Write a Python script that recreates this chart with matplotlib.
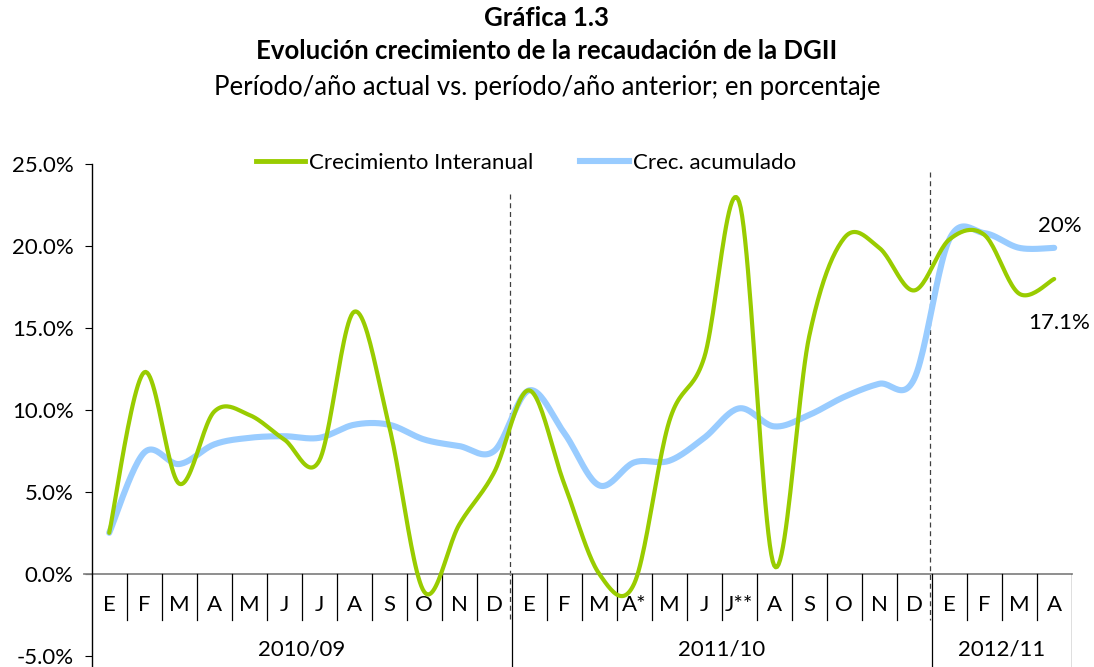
import numpy as np
import matplotlib.pyplot as plt
from matplotlib.lines import Line2D

plt.rcParams['font.family'] = ['Lato', 'DejaVu Sans']

months = ['E', 'F', 'M', 'A', 'M', 'J', 'J', 'A', 'S', 'O', 'N', 'D',
          'E', 'F', 'M', 'A*', 'M', 'J', 'J**', 'A', 'S', 'O', 'N', 'D',
          'E', 'F', 'M', 'A']
years = ['2010/09', '2011/10', '2012/11']
year_len = [12, 12, 4]

interanual = [2.5, 12.3, 5.5, 9.9, 9.7, 8.2, 6.9, 16.0, 9.0, -1.1, 3.0, 6.2,
              11.2, 5.5, 0.0, -0.6, 9.3, 13.2, 22.7, 0.5, 14.5, 20.5, 19.9, 17.3,
              20.4, 20.7, 17.1, 18.0]
acumulado = [2.5, 7.4, 6.7, 7.9, 8.3, 8.4, 8.3, 9.1, 9.1, 8.2, 7.8, 7.5,
             11.2, 8.6, 5.4, 6.8, 6.9, 8.3, 10.1, 9.0, 9.7, 10.8, 11.6, 11.9,
             20.4, 20.8, 19.9, 19.9]

GREEN = '#99cc00'
BLUE = '#99ccff'
FS = 16


def smooth(xs, ys, n=24):
    """Excel-like smoothed line (bezier with catmull-rom control points)"""
    pts = np.column_stack([xs, ys]).astype(float)
    p = np.vstack([pts[0], pts, pts[-1]])
    t = np.linspace(0, 1, n, endpoint=False)[:, None]
    out = []
    for i in range(1, len(p) - 2):
        p0, p1, p2, p3 = p[i - 1], p[i], p[i + 1], p[i + 2]
        c1 = p1 + (p2 - p0) / 6
        c2 = p2 - (p3 - p1) / 6
        out.append((1 - t) ** 3 * p1 + 3 * (1 - t) ** 2 * t * c1 + 3 * (1 - t) * t ** 2 * c2 + t ** 3 * p2)
    out.append(pts[-1:])
    return np.vstack(out)


fig = plt.figure(figsize=(10.94, 6.67), dpi=100)
ax = fig.add_axes([91.7 / 1094, 0, (1071.7 - 91.7) / 1094, (667 - 164.3) / 667])

x = np.arange(len(months))
blue_curve = smooth(x, acumulado)
green_curve = smooth(x, interanual)
ax.plot(blue_curve[:, 0], blue_curve[:, 1], color=BLUE, lw=4.4, solid_capstyle='round', zorder=3)
ax.plot(green_curve[:, 0], green_curve[:, 1], color=GREEN, lw=3.0, solid_capstyle='round', zorder=4)

ax.set_xlim(-0.5, len(months) - 0.5)
ax.set_ylim(-5.69, 25)
ax.set_yticks(np.arange(-5, 26, 5))
ax.set_yticklabels(['{:.1f}%'.format(v) for v in np.arange(-5, 26, 5)])
ax.tick_params(axis='y', length=5, width=0.8, pad=8, labelsize=FS)
ax.set_xticks([])
for s in ['top', 'right', 'bottom']:
    ax.spines[s].set_visible(False)
ax.spines['left'].set_linewidth(1.0)

# zero line (x axis)
ax.plot([-0.72, len(months) - 0.5], [0, 0], color='#868686', lw=1.3, clip_on=False, zorder=2)

# category table
bounds = np.cumsum(year_len) - 0.5
for i in range(len(months) - 1):
    xb = i + 0.5
    if xb in bounds:
        continue
    ax.plot([xb, xb], [0, -2.85], color='black', lw=0.9, zorder=2)
for xb in bounds:
    ax.plot([xb, xb], [0, -5.69], color='black', lw=0.9, zorder=2)

for i, m in enumerate(months):
    ax.text(i, -1.9, m, ha='center', va='center', fontsize=FS)
start = 0
for y, n in zip(years, year_len):
    ax.text(start + n / 2 - 0.5, -4.65, y, ha='center', va='center', fontsize=FS)
    start += n

# dashed year separators
ax.plot([11.45, 11.45], [23.2, -2.85], color='#404040', lw=0.9, ls=(0, (4, 3)), zorder=1)
ax.plot([23.45, 23.45], [24.5, -2.85], color='#404040', lw=0.9, ls=(0, (4, 3)), zorder=1)

ax.text(27.15, 21.25, '20%', ha='center', va='center', fontsize=FS)
ax.text(27.15, 15.3, '17.1%', ha='center', va='center', fontsize=FS)

handles = [Line2D([], [], color=GREEN, lw=3.5),
           Line2D([], [], color=BLUE, lw=4.4)]
fig.legend(handles, ['Crecimiento Interanual', 'Crec. acumulado'],
           loc='center', bbox_to_anchor=(526 / 1094, 1 - 163 / 667), ncol=2,
           frameon=False, fontsize=FS, handlelength=2.2, handletextpad=0.2,
           columnspacing=2.1)

fig.text(0.5, 1 - 18 / 667, 'Gráfica 1.3', ha='center', va='center', fontsize=18.5, fontweight='bold')
fig.text(0.5, 1 - 51 / 667, 'Evolución crecimiento de la recaudación de la DGII',
         ha='center', va='center', fontsize=18.5, fontweight='bold')
fig.text(0.5, 1 - 88 / 667, 'Período/año actual vs. período/año anterior; en porcentaje',
         ha='center', va='center', fontsize=18.5)

fig.savefig('out.png', dpi=100)
